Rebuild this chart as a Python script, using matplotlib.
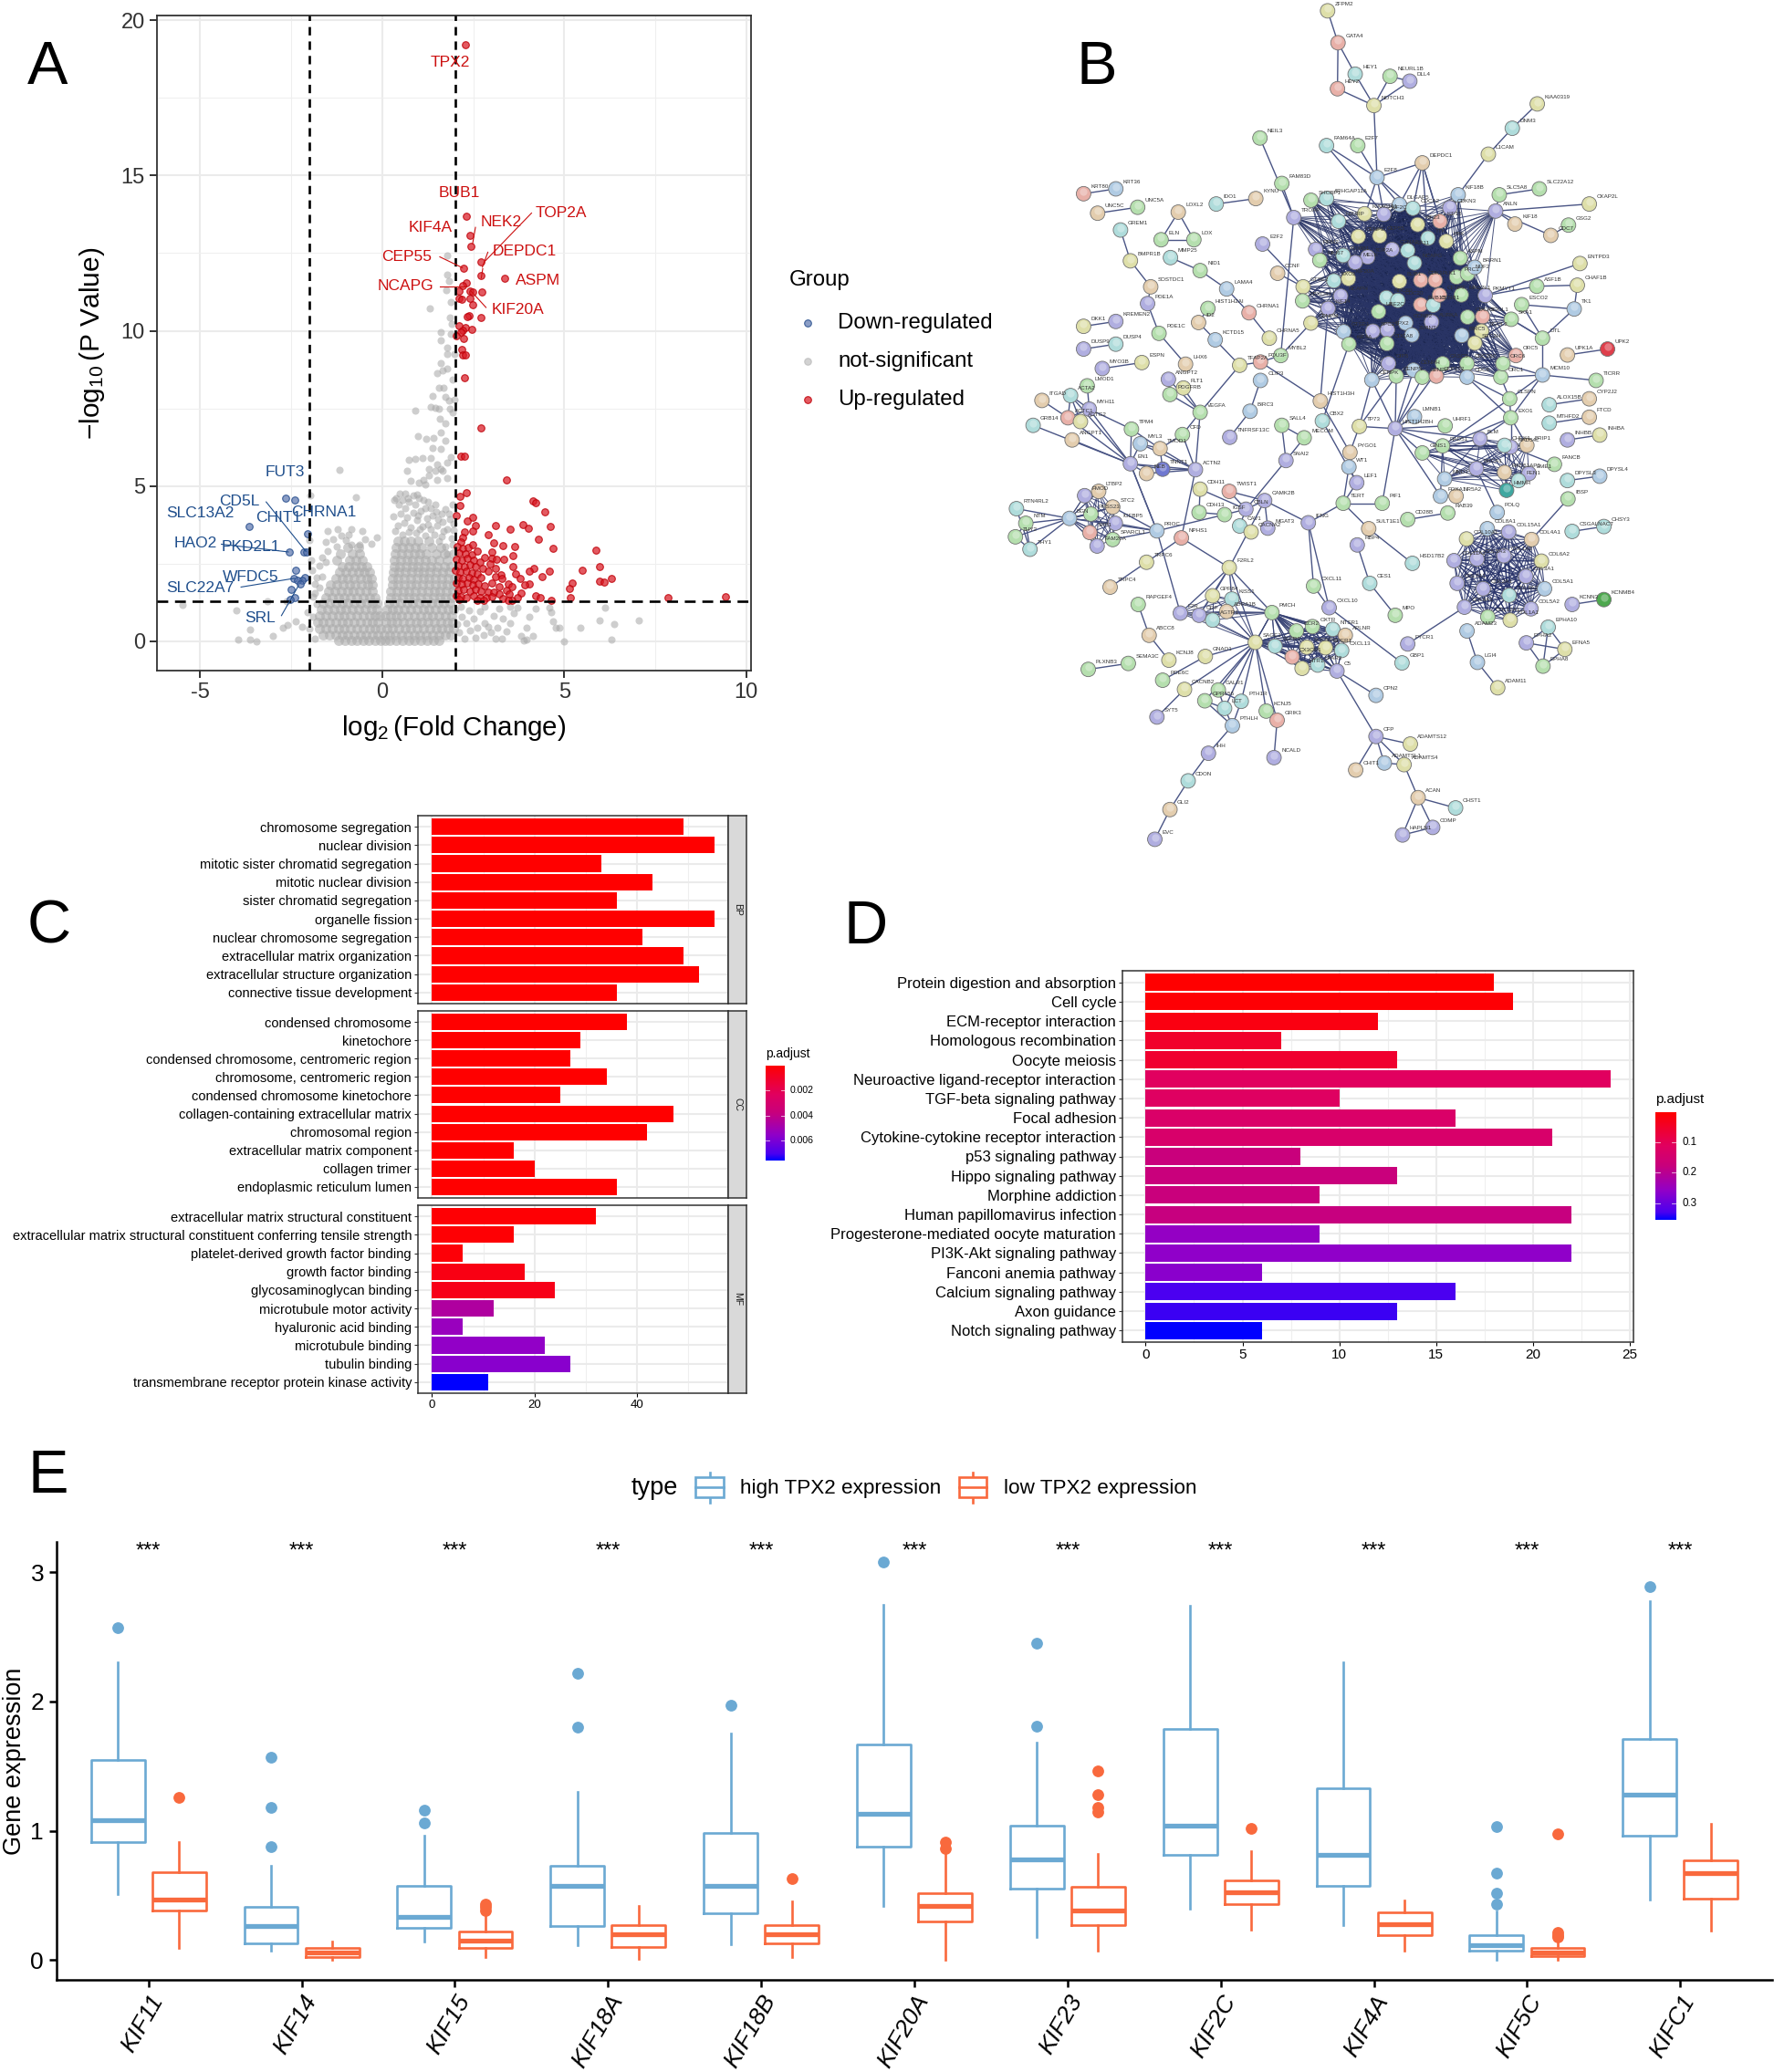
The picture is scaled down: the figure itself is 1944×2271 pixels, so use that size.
import itertools
import numpy as np
import matplotlib
matplotlib.use("Agg")
import matplotlib.pyplot as plt
from matplotlib.collections import LineCollection
from matplotlib.colors import LinearSegmentedColormap
from matplotlib.patches import Rectangle

plt.rcParams['font.family'] = ['Liberation Sans', 'DejaVu Sans']
plt.rcParams['mathtext.fontset'] = 'custom'
plt.rcParams['mathtext.rm'] = 'Liberation Sans'
plt.rcParams['mathtext.default'] = 'regular'

W, H = 1944, 2271

# ---------- A: volcano
red_pts = [(2.29,19.2),(2.30,13.69),(2.40,13.06),(2.43,12.72),(2.72,12.21),(2.23,12.02),(2.72,11.78),(3.35,11.69),
           (2.32,11.54),(2.21,11.47),(2.74,11.25),(2.12,11.28),(2.42,11.28),(2.49,11.25),(2.42,11.04),(2.12,11.03),
           (2.18,11.01),(2.49,10.85),(2.70,10.44),(2.39,10.5),(2.34,10.46),(2.12,10.16),(2.28,10.11),(2.47,10.04),
           (2.21,10.01),(2.15,9.97),(2.04,9.83),(2.24,9.74),(2.18,9.4),(2.21,9.23),(2.28,9.22),(2.27,8.49),(2.70,6.87),
           (2.16,5.95),(2.27,5.97),(3.42,5.2),(2.32,4.79),(2.14,4.67),(2.14,4.39),(4.14,4.52),(4.22,4.47),(4.47,4.16),
           (2.04,4.06),(2.48,3.99),(2.34,3.87),(3.12,3.73),(2.55,3.73),(3.51,3.6),(3.86,3.75),(4.01,3.63),(4.62,3.69),
           (2.48,3.55),(2.26,3.52),(2.91,3.43),(4.3,3.3),(2.21,3.35),(2.15,3.2),(3.05,3.16),(3.32,3.09),(3.63,3.06),
           (4.68,2.99),(5.87,2.93),(5.97,2.42),(5.49,2.29),(6.29,2.02),(5.97,1.94),(6.1,1.92),(5.21,1.88),(5.15,1.71),
           (5.16,1.42),(7.86,1.41),(9.42,1.44),(4.58,2.25),(4.38,2.08),(4.16,2.34),(4.05,2.25),(3.58,2.42),(3.65,2.18),
           (3.78,2.02),(4.03,1.85),(3.92,1.82),(4.21,1.48),(4.35,1.4),(4.64,1.32),(3.82,1.57),(3.71,1.4),(3.57,1.31),
           (3.4,1.64),(3.26,2.14),(3.33,2.64),(3.59,2.76),(2.8,2.71),(3.02,2.88),(3.0,2.68),(3.13,2.64),(2.97,2.49),
           (3.1,2.35),(2.05,3.05),(2.2,3.0),(2.35,3.02),(2.48,3.1),(2.1,2.85),(2.28,2.82),(2.45,2.8),(2.62,2.9),
           (2.03,2.65),(2.18,2.62),(2.33,2.66),(2.5,2.6),(2.68,2.55),(2.08,2.45),(2.25,2.42),(2.4,2.48),(2.56,2.4),
           (2.75,2.35),(2.9,2.25),(2.02,2.28),(2.14,2.22),(2.3,2.25),(2.46,2.2),(2.62,2.18),(2.08,2.05),(2.22,2.02),
           (2.38,2.05),(2.52,2.0),(2.7,2.05),(3.1,2.1),(3.28,2.02),(2.03,1.88),(2.18,1.85),(2.33,1.88),(2.48,1.82),
           (2.64,1.85),(2.82,1.8),(3.0,1.88),(3.2,1.75),(3.45,1.85),(3.55,1.75),(2.08,1.65),(2.24,1.68),(2.4,1.62),
           (2.56,1.66),(2.72,1.62),(2.9,1.58),(3.06,1.6),(3.22,1.52),(3.48,1.52),(2.03,1.48),(2.16,1.45),(2.32,1.42),
           (2.5,1.46),(2.68,1.42),(2.85,1.4),(3.02,1.45),(3.3,1.38),(3.45,1.33),(2.1,1.34),(2.62,1.33),(2.78,1.32)]

blue_pts = [(-2.65,4.62),(-2.41,4.54),(-3.67,3.7),(-2.05,3.48),(-2.55,2.89),(-2.16,2.88),(-2.09,2.88),(-2.37,2.28),
            (-2.14,2.05),(-2.2,1.97),(-2.43,2.04),(-2.33,1.97),(-2.25,1.85),(-2.5,1.67),(-2.41,1.42),(-2.52,1.35)]

grey_sparse = [(1.77,12.42),(1.77,11.82),(1.83,11.61),(1.75,11.32),(1.30,10.73),(1.88,10.94),(1.85,10.44),(1.9,10.21),
               (1.61,9.97),(1.61,9.69),(1.88,9.9),(1.77,9.47),(1.79,9.26),(1.99,9.26),(1.61,8.97),(1.77,8.79),(1.5,8.65),
               (1.66,8.72),(1.93,8.43),(1.55,8.18),(1.68,8.18),(1.39,7.9),(1.72,7.88),(1.83,7.76),(1.99,7.79),(1.34,7.55),
               (1.45,7.51),(1.55,7.48),(1.86,7.48),(0.9,7.44),(1.93,7.38),(1.58,7.17),(1.72,7.02),(1.61,6.74),(0.97,6.62),
               (1.21,6.51),(1.41,6.55),(1.74,6.47),(1.39,6.22),(1.61,6.2),(1.88,5.94),(0.72,5.84),(0.9,5.87),(1.1,5.91),
               (1.34,5.91),(1.77,5.77),(-1.18,5.53),(0.68,5.48),(1.28,5.56),(1.5,5.7),(1.61,5.56),(1.45,5.48),(1.66,5.48),
               (1.28,5.34),(1.12,5.2),(0.79,5.16),(1.77,5.27),(1.5,5.2),(1.01,5.1),(1.17,5.06),(-1.98,4.7),(-0.73,4.63),
               (0.47,4.77),(0.63,4.77),(0.85,4.7),(1.0,4.62),(0.38,4.6),(0.56,4.55),(0.72,4.5),(0.9,4.42),(1.25,4.5),
               (1.45,4.4),(1.92,4.42),(1.62,4.1),(0.5,4.12),(0.85,4.15),(1.05,4.2),(1.22,3.98),(0.95,3.9),(1.65,3.85),
               (1.85,3.95),(0.42,3.72),(0.6,3.82),(0.78,3.68),(1.1,3.7),(1.32,3.62),(1.5,3.72),(1.78,3.6),(-0.85,3.6),
               (-1.22,3.62),(-1.5,3.55),(0.55,3.45),(0.92,3.5),(1.18,3.42),(1.42,3.45),(1.62,3.38),(1.9,3.32),(-0.15,3.35),
               (-0.48,3.3),(-1.0,3.25),(-1.35,3.3),(-2.0,3.25),(-1.95,2.6),(-1.92,2.28),(-1.85,1.85),(-1.9,1.45),
               (-5.48,1.18),(-4.01,1.0),(-3.96,0.07),(-3.63,0.07),(-3.45,0.0),(-3.63,0.38),(-3.01,0.17),(-2.6,0.54),
               (-2.74,0.43),(-2.38,0.64),(-2.2,0.46),(-3.15,1.28),(-2.62,1.28),(-2.0,0.4),(-1.85,0.1),(-1.9,0.8),
               (-2.05,0.95),(-1.8,1.2),(7.04,0.68),(6.37,0.57),(5.96,0.67),(6.12,1.1),(6.29,0.07),(5.43,0.43),(4.98,0.0),
               (4.87,0.43),(4.76,0.43),(4.68,0.64),(4.65,0.93),(4.58,1.1),(4.22,1.07),(4.05,0.78),(3.97,0.43),(4.14,0.17),
               (3.97,0.07),(3.82,0.17),(3.89,0.03),(3.6,0.9),(3.5,0.6),(3.42,0.32),(3.28,0.08),(3.12,0.1),(3.15,0.45),
               (3.3,0.72),(3.05,0.82),(3.2,1.05),(2.98,0.3),(3.52,1.12),(3.72,1.08),(2.82,1.12),(2.68,0.98),(2.8,0.6),
               (2.62,0.45),(2.78,0.2),(2.55,0.12),(2.42,0.35),(2.25,0.1),(2.12,0.3),(2.5,0.72),(2.3,0.58),(2.18,0.78),
               (2.38,1.0),(2.15,1.12),(2.92,0.48),(2.05,0.55),
               (0.32,4.55),(0.45,4.4),(0.62,4.3),(0.7,4.62),(0.95,4.72),(1.12,4.55),(1.32,4.3),(1.48,4.18),(1.38,4.05),
               (1.72,4.25),(1.82,4.12),(0.3,4.02),(0.68,4.0),(0.98,4.05),(1.18,4.28),(1.52,3.95),(1.95,3.8),(0.35,3.55),
               (0.72,3.52),(1.02,3.62),(1.25,3.75),(1.68,3.55),(1.95,3.58),(-0.55,3.55),(-0.92,3.45),(-1.12,3.4),
               (-1.55,3.2),(-0.3,3.15),(-0.62,3.12),(-0.85,3.1),(-1.25,3.05),(-1.5,2.9),(-1.65,2.7),(-1.72,2.45),
               (-1.55,2.55),(-1.65,2.1),(-1.8,2.05),(-1.72,1.72),(-1.85,1.55),(1.92,3.1),(1.72,3.05),(1.55,3.22),(1.78,2.82)]

# the dense grey mass read row by row: one x list for each -log10(p) level
grey_levels = [0.03, 0.22, 0.42, 0.62, 0.82, 1.02, 1.22, 1.42, 1.62, 1.82, 2.02, 2.22, 2.42, 2.62, 2.82, 3.02, 3.22]
grey_rows = [
    [-1.2,-1.03,-0.86,-0.7,-0.53,-0.37,-0.2,-0.06,0.07,0.21,0.38,0.55,0.72,0.89,1.06,1.23,1.4,1.55],
    [-1.62,-1.45,-1.28,-1.11,-0.94,-0.77,-0.6,-0.44,-0.28,-0.12,0.04,0.2,0.36,0.53,0.7,0.87,1.04,1.21,1.38,1.55,1.72,1.88],
    [-1.72,-1.55,-1.38,-1.21,-1.04,-0.87,-0.7,-0.53,-0.36,-0.2,-0.04,0.12,0.28,0.45,0.62,0.79,0.96,1.13,1.3,1.47,1.64,1.81,1.96],
    [-1.78,-1.62,-1.45,-1.28,-1.11,-0.94,-0.77,-0.6,-0.43,-0.27,-0.12,0.1,0.25,0.41,0.58,0.75,0.92,1.09,1.26,1.43,1.6,1.77,1.94],
    [-1.72,-1.55,-1.38,-1.21,-1.04,-0.87,-0.7,-0.53,-0.36,-0.2,-0.08,0.08,0.22,0.37,0.54,0.71,0.88,1.05,1.22,1.39,1.56,1.73,1.9],
    [-1.68,-1.5,-1.33,-1.16,-0.99,-0.82,-0.65,-0.48,-0.31,-0.15,0.13,0.28,0.44,0.61,0.78,0.95,1.12,1.29,1.46,1.63,1.8,1.96],
    [-1.62,-1.45,-1.28,-1.11,-0.94,-0.77,-0.6,-0.43,-0.27,-0.16,0.18,0.33,0.5,0.67,0.84,1.01,1.18,1.35,1.52,1.69,1.86],
    [-1.55,-1.38,-1.21,-1.04,-0.87,-0.7,-0.53,-0.36,-0.2,0.22,0.38,0.55,0.72,0.89,1.06,1.23,1.4,1.57,1.74,1.91],
    [-1.48,-1.3,-1.13,-0.96,-0.79,-0.62,-0.45,-0.28,0.24,0.4,0.57,0.74,0.91,1.08,1.25,1.42,1.59,1.76,1.93],
    [-1.42,-1.25,-1.08,-0.91,-0.74,-0.57,-0.4,-0.27,0.27,0.43,0.6,0.77,0.94,1.11,1.28,1.45,1.62,1.79,1.95],
    [-1.28,-1.11,-0.94,-0.77,-0.6,-0.43,-0.3,0.28,0.44,0.61,0.78,0.95,1.12,1.29,1.46,1.63,1.8,1.97],
    [-1.18,-1.0,-0.83,-0.66,-0.49,-0.34,0.3,0.46,0.63,0.8,0.97,1.14,1.31,1.48,1.65,1.82],
    [-1.1,-0.92,-0.75,-0.58,-0.42,0.32,0.48,0.65,0.82,0.99,1.16,1.33,1.5,1.7,1.88],
    [-1.25,-0.9,-0.72,-0.55,0.33,0.5,0.67,0.84,1.01,1.18,1.35,1.55,1.78],
    [-1.15,-0.82,-0.62,0.36,0.53,0.7,0.87,1.04,1.21,1.48,1.7,1.95],
    [-0.95,-0.66,0.38,0.56,0.73,0.9,1.08,1.35,1.6],
    [0.42,0.6,0.78,0.98,1.28],
]

red_labels = ["TPX2", "BUB1", "TOP2A", "NEK2", "KIF4A", "DEPDC1", "CEP55", "ASPM", "NCAPG", "KIF20A"]
red_label_x = [1.86, 2.12, 4.92, 3.26, 1.32, 3.91, 0.68, 4.28, 0.65, 3.73]
red_label_y = [18.63, 14.44, 13.79, 13.5, 13.33, 12.56, 12.38, 11.61, 11.44, 10.67]
blue_labels = ["FUT3", "CD5L", "SLC13A2", "CHIT1", "CHRNA1", "HAO2", "PKD2L1", "WFDC5", "SLC22A7", "SRL"]
blue_label_x = [-2.66, -3.93, -5.0, -2.85, -1.6, -5.13, -3.61, -3.61, -5.0, -3.35]
blue_label_y = [5.46, 4.5, 4.12, 3.99, 4.16, 3.16, 3.03, 2.08, 1.72, 0.75]
# label connector segments (x0, y0, x1, y1)
red_links = [(4.1,13.79,2.83,12.25),(2.56,13.33,2.48,12.8),(2.9,12.53,2.75,12.05),(1.58,12.38,2.2,12.03),
             (1.58,11.44,2.3,11.44),(2.85,10.75,2.42,11.3),(2.72,11.7,2.76,12.0)]
blue_links = [(-3.19,4.49,-2.1,2.9),(-4.42,3.13,-2.58,2.88),(-3.88,1.75,-2.42,2.03),(-2.77,0.83,-2.3,1.8)]

# ---------- B: string network, positions in layout units
top_nodes = [("ZFPM2",710,20,"y"),("GATA4",730,79,"r"),("HEY1",763,137,"c"),("HEY2",729,164,"r"),("NEURL1B",830,141,"g"),
    ("DLL4",868,150,"b"),("NOTCH3",799,195,"y"),("KIAA0319",1113,192,"y"),("DNM3",1065,237,"c"),("L1CAM",1019,285,"y"),
    ("NEIL3",580,255,"g"),("FAM64A",708,269,"c"),("E2F7",768,269,"g"),("DEPDC1",892,301,"t"),("E2F8",805,328,"s"),
    ("FAM83D",622,339,"g"),("SLC5A8",1040,360,"g"),("SLC22A12",1117,349,"g"),("CKAP2L",1213,377,"y"),("GSG2",1173,416,"g"),
    ("CDC7",1139,435,"t"),("KIF18",1070,414,"t"),("IDO1",496,377,"c"),("KYNU",572,367,"t"),("KRT80",241,358,"r"),
    ("KRT36",303,349,"s"),("UNC5C",268,394,"t"),("UNC5A",345,383,"g"),("LOXL2",423,392,"t"),("ELN",390,443,"g"),
    ("LOX",453,443,"g"),("GREM1",312,425,"c"),("BMPR1B",331,482,"y"),("SOSTDC1",370,530,"t"),("PDE1A",364,561,"b"),
    ("PDE1C",386,616,"g"),("LHX6",437,673,"t"),("MMP25",408,476,"c"),("NID1",465,500,"g"),("LAMA4",516,534,"s"),
    ("CHRNA1",559,578,"r"),("CHRNA5",598,625,"y"),("E2F2",585,451,"b"),("CCNF",614,505,"t"),("HIST1H2AI",480,570,"g"),
    ("ID2",462,596,"t"),("KCTD15",494,628,"s"),("TFAP2A",541,675,"y"),("POU3F",581,669,"r"),("MYBL2",620,657,"g"),
    ("DKK1",241,603,"y"),("KREMEN2",303,594,"b"),("DUSP9",241,645,"b"),("DUSP4",303,636,"c"),("ESPN",353,670,"y"),
    ("MYO3B",277,681,"b"),("LMOD1",248,713,"g"),("ANGPT2",404,701,"b"),("FLT1",433,717,"y"),("PDGFRB",407,729,"g"),
    ("CLIP3",581,703,"s"),("BIRC3",561,760,"s"),("TNFRSF13C",522,808,"b"),("VEGFA",465,762,"g"),("HIST1H3H",696,741,"t"),
    ("CBX2",700,778,"c"),("SALL4",622,786,"g"),("MECOM",665,809,"g"),("SNAI2",630,851,"b"),("PYGO1",753,836,"t"),
    ("WT1",751,863,"s"),("LEF1",766,892,"b"),("TP73",771,788,"y"),("HIST1H2BH",840,792,"b"),("LMNB1",877,770,"s"),
    ("UHRF1",936,787,"g")]
left_nodes = [("ITGAD",161,740,"t"),("ACTA2",216,731,"c"),("ACTC1",211,772,"r"),("ACTG2",235,779,"y"),("MYH11",252,756,"b"),
    ("GRB14",144,786,"c"),("ANGPT1",219,813,"t"),("TPM4",333,793,"g"),("CFD",431,803,"g"),("MYL3",350,820,"s"),
    ("TMOD1",388,829,"t"),("EN1",331,857,"b"),("NEB",362,875,"t"),("TNNT1",393,867,"D"),("ACTN2",456,868,"b"),
    ("CDH11",465,904,"y"),("CDH13",463,947,"g"),("TWIST1",521,908,"r"),("CAMK2B",589,925,"b"),("CBLN",553,941,"b"),
    ("IGSF",512,951,"g"),("CAV1",541,972,"c"),("CACNA2",563,983,"y"),("MGAT3",595,976,"b"),("IFNG",673,966,"b"),
    ("TERT",740,930,"g"),("PIF1",815,930,"g"),("SULT1E1",789,977,"t"),("RBP4",767,1007,"b"),("HSD17B2",873,1041,"c"),
    ("CD28B",864,960,"g"),("RAB39",941,948,"g"),("FOXA1",927,917,"s"),("NR5A2",957,917,"t"),("RTN4RL2",112,940,"c"),
    ("NTM",130,967,"g"),("THY2",110,992,"g"),("THY1",138,1015,"c"),("PROC",382,981,"s"),("NPHS1",429,994,"r"),
    ("TRPC6",362,1039,"y"),("TRPC4",292,1085,"t"),("F2RL2",521,1049,"y"),("CXCL11",683,1083,"g"),("CXCL10",713,1123,"b")]
ecm_nodes = [("LTBP2",270,908,"t"),("FMOD",243,916,"b"),("STC2",297,937,"t"),("PRSS23",255,950,"g"),("IGFBP5",302,967,"b"),
    ("BGN",214,958,"s"),("SPP1",253,984,"r"),("SPARCL1",297,997,"g"),("FAM20A",267,1009,"b")]
gpcr_nodes = [("F2R",427,1133,"b"),("GPR84",489,1101,"y"),("KISS1",526,1107,"c"),("GRP",463,1137,"b"),("ADRA1B",516,1130,"t"),
    ("AGTR1",489,1146,"c"),("PMCH",603,1132,"g"),("SAGE1",571,1187,"y"),("S1PR1",609,1194,"c"),("CCR2",650,1166,"g"),
    ("OXTR",681,1158,"g"),("NTSR1",720,1163,"c"),("APLNR",744,1174,"t"),("SUCNR1",670,1196,"y"),("GPER1",706,1197,"y"),
    ("CX3CR1",642,1214,"r"),("LPAR3",691,1229,"c"),("HTR1",661,1235,"y"),("CXCL13",737,1202,"c"),("C5",728,1240,"b")]
bottom_nodes = [("RAPGEF4",346,1117,"g"),("ABCC8",367,1174,"t"),("KCNJ8",405,1220,"y"),("GNAO1",475,1213,"y"),
    ("PDE6C",393,1257,"g"),("GBP1",853,1225,"c"),("PYCR1",864,1190,"b"),("CACNB2",435,1274,"y"),("GALR1",500,1275,"g"),
    ("GPR156",474,1295,"g"),("LCT",512,1309,"c"),("PTH1R",544,1296,"c"),("KCNJ5",592,1314,"g"),("GRIK3",613,1331,"r"),
    ("PTHLH",527,1341,"s"),("NCALD",607,1400,"b"),("SYT5",382,1325,"b"),("IHH",481,1392,"b"),("CDON",442,1443,"c"),
    ("GLI2",407,1496,"t"),("EVC",378,1551,"b"),("PLXNB3",250,1237,"g"),("SEMA3C",327,1226,"g"),("CFP",803,1361,"b"),
    ("CPN2",803,1285,"s"),("ADAMTS12",869,1375,"y"),("CHIT1",764,1423,"t"),("ADAMTSL1",819,1410,"s"),("ADAMTS4",857,1413,"y"),
    ("ACAN",884,1474,"t"),("CHST1",956,1493,"c"),("COMP",912,1529,"b"),("HAPLN1",854,1543,"b"),("CES1",791,1078,"c"),
    ("MPO",840,1137,"g")]
right_nodes = [("DTL",1123,625,"g"),("MCM10",1123,693,"s"),("CLSPN",1060,737,"g"),("EXO1",1062,772,"g"),("ENTPD3",1195,487,"y"),
    ("CHAF1B",1190,527,"y"),("ASF1B",1112,529,"g"),("TK1",1184,571,"s"),("ESCO2",1083,563,"g"),("UPK2",1248,645,"R"),
    ("UPK1A",1171,656,"t"),("TICRR",1226,703,"g"),("CYP2J2",1213,737,"t"),("ALOX15B",1136,748,"c"),("FTCD",1213,771,"t"),
    ("MTHFD2",1136,782,"c"),("INHBB",1171,813,"b"),("INHBA",1233,804,"y"),("FANCB",1146,858,"g"),("DPYSL3",1171,888,"c"),
    ("DPYSL4",1233,880,"s"),("IBSP",1172,922,"g"),("CSGALNACT",1180,982,"c"),("CHSY3",1241,973,"c"),("KCNN3",1180,1117,"b"),
    ("KCNMB4",1241,1108,"G"),("EPHA10",1134,1159,"c"),("EPHA2",1092,1188,"b"),("EFNA5",1166,1200,"y"),("EPHA8",1124,1231,"g"),
    ("ADAM23",978,1166,"s"),("LGI4",998,1224,"s"),("ADAM11",1037,1271,"y"),("POLQ",1036,947,"s")]
repair_nodes = [("RAD51",931,824,"g"),("GINS1",892,837,"g"),("BLM",1003,811,"b"),("RAD54L",1062,826,"b"),("CHEK1",1050,823,"c"),
    ("BRCA1",996,866,"b"),("MND1",935,885,"s"),("RAD51AP1",1050,873,"t"),("EME1",1097,875,"b"),("FEN1",1077,888,"c"),
    ("HMMR",1054,906,"T"),("BRIP1",1093,823,"t")]
collagen_nodes = [("COL8A1",1017,977,"s"),("COL15A1",1058,983,"b"),("COL4A1",1102,997,"t"),("COL10A1",977,996,"y"),
    ("COL6A2",1121,1037,"y"),("COL11A1",953,1036,"b"),("COL5A3",997,1033,"b"),("COL1A2",1049,1027,"b"),("COL3A1",1091,1065,"b"),
    ("COL5A1",1127,1088,"s"),("COL7A1",959,1078,"b"),("COL2A1",1009,1088,"b"),("COL4A2",1059,1100,"c"),("COL5A2",1101,1125,"b"),
    ("COL9A1",973,1122,"b"),("COL12A1",1018,1140,"g"),("COL1A1",1061,1146,"y")]
hub_core = [("KIF2C",818,396,"b"),("DLGAP5",848,378,"s"),("CDCA2",874,385,"c"),("KIF23",883,415,"y"),("KIF15",926,409,"r"),
    ("CEP55",810,436,"y"),("CENPE",769,437,"y"),("CCNA2",834,461,"b"),("KIF11",864,463,"c"),("TTK",903,440,"c"),
    ("PBK",938,446,"y"),("ASPM",965,477,"g"),("NCAPG",877,486,"c"),("TOP2A",787,475,"b"),("MELK",763,485,"b"),
    ("KIF20A",750,515,"y"),("NCAPH",735,547,"b"),("NDC80",823,550,"c"),("CDC20",845,555,"c"),("BUB1",848,520,"y"),
    ("BUB1B",889,563,"r"),("CCNB1",913,564,"c"),("AURKA",910,595,"b"),("CDK1",889,518,"r"),("PLK1",917,518,"r"),
    ("CENPF",925,545,"r"),("PRC1",958,512,"g"),("NUF2",979,506,"g"),("MAD2L1",967,545,"g"),("UBE2C",808,576,"g"),
    ("CCNB2",860,597,"s"),("SPC25",797,612,"b"),("TPX2",825,610,"b"),("ZWINT",872,619,"s"),("CDCA8",824,635,"g"),
    ("CDCA5",979,586,"g"),("BIRC5",968,620,"s"),("GTSE1",741,613,"s"),("KIF4A",751,636,"g"),("OIP5",827,672,"b")]
hub_outer = [("TROAP",645,402,"b"),("SHCBP1",678,370,"g"),("ARHGAP11A",708,367,"c"),("HJURP",731,409,"c"),("KIAA0101",781,395,"y"),
    ("KIF18B",961,360,"s"),("CDKN3",945,384,"b"),("ANLN",1033,390,"b"),("BRRN1",993,494,"s"),("RRM2",687,461,"b"),
    ("MKI67",695,481,"g"),("FOXM1",740,472,"c"),("EXO2",722,519,"c"),("GTSE2",663,530,"y"),("FBXO43",662,556,"g"),
    ("KIF14",711,570,"b"),("CENPM",678,597,"y"),("PKMYT1",1013,546,"b"),("SGOL1",1008,585,"r"),("SGOL2",1006,612,"y"),
    ("SRC2H",993,634,"y"),("SKA1",1063,590,"g"),("CENPK",795,702,"s"),("CENPN",842,695,"g"),("CENPH",875,684,"s"),
    ("CENPI",892,697,"g"),("CEP152",919,695,"r"),("CASC5",931,672,"g"),("CDC25C",978,672,"g"),("CDC6",978,697,"s"),
    ("ORC1",1043,697,"g"),("ORC6",1047,672,"g"),("ORC5",1072,657,"r")]
# outer nodes that sit inside the dark core of the picture
core_extra = ["CENPH", "CENPN", "CASC5", "CEP152", "CDC25C", "SRC2H", "SGOL2", "SGOL1", "PKMYT1"]

net_edges = [("ZFPM2","GATA4"),("GATA4","HEY1"),("GATA4","HEY2"),("HEY1","NOTCH3"),("HEY2","NOTCH3"),("NEURL1B","NOTCH3"),
    ("DLL4","NOTCH3"),("NEURL1B","DLL4"),("NOTCH3","E2F8"),("KIAA0319","DNM3"),("DNM3","L1CAM"),("L1CAM","KIF18B"),
    ("E2F8","E2F7"),("E2F8","FAM64A"),("NEIL3","TROAP"),("FAM83D","TROAP"),("SLC5A8","SLC22A12"),("CKAP2L","ANLN"),
    ("GSG2","CDC7"),("CDC7","ANLN"),("KIF18","ANLN"),("IDO1","KYNU"),("KRT80","KRT36"),("UNC5C","UNC5A"),("LOXL2","ELN"),
    ("LOXL2","LOX"),("ELN","LOX"),("GREM1","BMPR1B"),("BMPR1B","SOSTDC1"),("SOSTDC1","PDE1A"),("PDE1A","PDE1C"),
    ("PDE1C","LHX6"),("MMP25","NID1"),("NID1","LAMA4"),("LAMA4","CHRNA1"),("CHRNA1","CHRNA5"),("E2F2","GTSE2"),
    ("CCNF","GTSE2"),("HIST1H2AI","ID2"),("ID2","KCTD15"),("KCTD15","TFAP2A"),("TFAP2A","VEGFA"),("TFAP2A","POU3F"),
    ("POU3F","MYBL2"),("POU3F","HIST1H3H"),("MYBL2","CENPM"),("MYBL2","TROAP"),("DKK1","KREMEN2"),("DUSP9","DUSP4"),
    ("ESPN","MYO3B"),("LMOD1","MYH11"),("ANGPT2","VEGFA"),("FLT1","VEGFA"),("PDGFRB","VEGFA"),("ANGPT2","PDGFRB"),
    ("CLIP3","BIRC3"),("BIRC3","TNFRSF13C"),("VEGFA","CFD"),("VEGFA","ACTN2"),("HIST1H3H","KIF14"),("HIST1H3H","PYGO1"),
    ("CBX2","KIF4A"),("CBX2","LEF1"),("SALL4","MECOM"),("SALL4","SNAI2"),("MECOM","SNAI2"),("SNAI2","CBLN"),("PYGO1","TP73"),
    ("WT1","PYGO1"),("WT1","LEF1"),("LEF1","TERT"),("WT1","TERT"),("TP73","CENPK"),("TP73","CENPN"),("HIST1H2BH","LMNB1"),
    ("HIST1H2BH","UHRF1"),("HIST1H2BH","CENPK"),("HIST1H2BH","CENPN"),("HIST1H2BH","CENPH"),("HIST1H2BH","CENPI"),
    ("HIST1H2BH","RAD51"),("HIST1H2BH","GINS1"),("HIST1H2BH","FOXA1"),("HIST1H2BH","TP73"),("HIST1H2BH","PIF1"),
    ("HIST1H2BH","BLM"),("HIST1H2BH","CASC5"),("ITGAD","ACTC1"),("ACTA2","ACTC1"),("ACTA2","MYH11"),("ACTA2","ACTG2"),
    ("ACTC1","ACTG2"),("ACTC1","MYH11"),("MYH11","TPM4"),("ACTA2","EN1"),("ACTC1","EN1"),("GRB14","EN1"),("ANGPT1","EN1"),
    ("MYH11","EN1"),("TPM4","EN1"),("TPM4","TMOD1"),("MYL3","EN1"),("MYL3","TMOD1"),("EN1","NEB"),("EN1","TNNT1"),
    ("EN1","ACTN2"),("NEB","ACTN2"),("TNNT1","ACTN2"),("TMOD1","ACTN2"),("TMOD1","TNNT1"),("MYL3","ACTN2"),("EN1","PROC"),
    ("ACTN2","NPHS1"),("CFD","ACTN2"),("CDH11","CDH13"),("CDH11","CBLN"),("TWIST1","CBLN"),("TWIST1","CAMK2B"),
    ("CBLN","CAMK2B"),("CBLN","IGSF"),("CBLN","CAV1"),("CAMK2B","MGAT3"),("CDH13","IGSF"),("IGSF","PROC"),("CAV1","CACNA2"),
    ("CAMK2B","IFNG"),("IFNG","TERT"),("TERT","PIF1"),("TERT","SULT1E1"),("SULT1E1","HSD17B2"),("RBP4","CES1"),("CES1","MPO"),
    ("CD28B","RAB39"),("IFNG","CXCL11"),("IFNG","CXCL10"),("CXCL11","CXCL10"),("RTN4RL2","BGN"),("NTM","BGN"),("THY2","BGN"),
    ("THY1","BGN"),("RTN4RL2","THY1"),("NTM","THY2"),("NTM","THY1"),("THY2","THY1"),("PROC","BGN"),("PROC","EN1"),
    ("PROC","SPARCL1"),("PROC","IGFBP5"),("PROC","STC2"),("PROC","F2R"),("NPHS1","F2RL2"),("TRPC6","TRPC4"),("TRPC6","NPHS1"),
    ("F2RL2","GPR84"),("F2RL2","KISS1"),("F2RL2","GRP"),("F2RL2","PMCH"),("F2RL2","SAGE1"),("F2RL2","F2R"),("CAMK2B","F2RL2"),
    ("RAPGEF4","ABCC8"),("ABCC8","KCNJ8"),("GNAO1","SAGE1"),("GNAO1","PDE6C"),("GBP1","CXCL10"),("PYCR1","COL9A1"),
    ("CACNB2","SAGE1"),("GALR1","SAGE1"),("GPR156","SAGE1"),("LCT","SAGE1"),("PTH1R","SAGE1"),("KCNJ5","SAGE1"),("GRIK3","SAGE1"),
    ("GRIK3","NCALD"),("GPR156","LCT"),("GPR156","PTHLH"),("LCT","PTHLH"),("PTH1R","PTHLH"),("GALR1","LCT"),("GALR1","PTH1R"),
    ("SYT5","CACNB2"),("PTHLH","IHH"),("IHH","CDON"),("CDON","GLI2"),("GLI2","EVC"),("PLXNB3","SEMA3C"),("C5","CFP"),("C5","CPN2"),
    ("CFP","ADAMTS12"),("CFP","CHIT1"),("CFP","ADAMTSL1"),("CFP","ADAMTS4"),("ADAMTSL1","ADAMTS4"),("ADAMTS4","ACAN"),
    ("ACAN","CHST1"),("ACAN","COMP"),("ACAN","HAPLN1"),("COMP","HAPLN1"),("DTL","MCM10"),("DTL","ESCO2"),("DTL","SKA1"),
    ("MCM10","ORC1"),("MCM10","ORC6"),("MCM10","TICRR"),("MCM10","CLSPN"),("MCM10","EXO1"),("CLSPN","EXO1"),("CLSPN","ORC1"),
    ("CLSPN","CDC6"),("EXO1","CDC6"),("EXO1","BLM"),("EXO1","RAD54L"),("EXO1","BRIP1"),("CLSPN","RAD51"),("EXO1","RAD51"),
    ("ENTPD3","PKMYT1"),("CHAF1B","ASF1B"),("ASF1B","PKMYT1"),("CHAF1B","TK1"),("TK1","ESCO2"),("TK1","DTL"),("UPK2","UPK1A"),
    ("ALOX15B","CYP2J2"),("MTHFD2","FTCD"),("INHBB","INHBA"),("FANCB","RAD54L"),("DPYSL3","DPYSL4"),("IBSP","COL4A1"),
    ("CSGALNACT","CHSY3"),("KCNN3","KCNMB4"),("EPHA10","EPHA2"),("EPHA10","EFNA5"),("EPHA2","EFNA5"),("EPHA2","EPHA8"),
    ("EPHA10","EPHA8"),("EFNA5","EPHA8"),("ADAM23","LGI4"),("LGI4","ADAM11"),("POLQ","BRCA1"),("FOXA1","RAD51"),("E2F8","DEPDC1"),
    ("E2F8","KIF2C"),("E2F8","DLGAP5"),("E2F8","CENPE"),("E2F8","CDCA2"),("DEPDC1","CDCA2"),("DEPDC1","KIF15"),("DEPDC1","DLGAP5"),
    ("DEPDC1","TTK"),("DEPDC1","PBK"),("SKA1","DTL"),("SLC5A8","ANLN"),("FAM64A","KIF2C"),("CFD","TMOD1")]

node_colors = {"g": "#B5DFAE", "b": "#B0AEE0", "c": "#AFDCDB", "t": "#E3CDAE", "y": "#DEDFA9", "r": "#E8B0A8",
               "s": "#B0CBE3", "R": "#DE3F4B", "G": "#4DA84E", "T": "#3FA7A0", "D": "#6F78D0"}

# ---------- C: GO bars
bp_terms = ["chromosome segregation", "nuclear division", "mitotic sister chromatid segregation", "mitotic nuclear division",
            "sister chromatid segregation", "organelle fission", "nuclear chromosome segregation",
            "extracellular matrix organization", "extracellular structure organization", "connective tissue development"]
bp_counts = [49, 55, 33, 43, 36, 55, 41, 49, 52, 36]
bp_p = [0, 0, 0, 0, 0, 0, 0, 0, 0, 0]
cc_terms = ["condensed chromosome", "kinetochore", "condensed chromosome, centromeric region", "chromosome, centromeric region",
            "condensed chromosome kinetochore", "collagen-containing extracellular matrix", "chromosomal region",
            "extracellular matrix component", "collagen trimer", "endoplasmic reticulum lumen"]
cc_counts = [38, 29, 27, 34, 25, 47, 42, 16, 20, 36]
cc_p = [0, 0, 0, 0, 0, 0, 0, 0, 0, 0]
mf_terms = ["extracellular matrix structural constituent", "extracellular matrix structural constituent conferring tensile strength",
            "platelet-derived growth factor binding", "growth factor binding", "glycosaminoglycan binding",
            "microtubule motor activity", "hyaluronic acid binding", "microtubule binding", "tubulin binding",
            "transmembrane receptor protein kinase activity"]
mf_counts = [32, 16, 6, 18, 24, 12, 6, 22, 27, 11]
mf_p = [0.0001, 0.0001, 0.0002, 0.0005, 0.0006, 0.0046, 0.0053, 0.0055, 0.0057, 0.0076]
go_p_max = 0.0076

# ---------- D: KEGG bars
kegg_terms = ["Protein digestion and absorption", "Cell cycle", "ECM-receptor interaction", "Homologous recombination",
              "Oocyte meiosis", "Neuroactive ligand-receptor interaction", "TGF-beta signaling pathway", "Focal adhesion",
              "Cytokine-cytokine receptor interaction", "p53 signaling pathway", "Hippo signaling pathway", "Morphine addiction",
              "Human papillomavirus infection", "Progesterone-mediated oocyte maturation", "PI3K-Akt signaling pathway",
              "Fanconi anemia pathway", "Calcium signaling pathway", "Axon guidance", "Notch signaling pathway"]
kegg_counts = [18, 19, 12, 7, 13, 24, 10, 16, 21, 8, 13, 9, 22, 9, 22, 6, 16, 13, 6]
kegg_p = [0.0, 0.005, 0.02, 0.05, 0.055, 0.11, 0.115, 0.13, 0.135, 0.175, 0.175, 0.175, 0.18, 0.255, 0.26, 0.265, 0.33, 0.335, 0.355]
kegg_p_max = 0.355

# ---------- E: boxplots
kif_genes = ["KIF11", "KIF14", "KIF15", "KIF18A", "KIF18B", "KIF20A", "KIF23", "KIF2C", "KIF4A", "KIF5C", "KIFC1"]
high_lo = [0.51, 0.07, 0.145, 0.115, 0.12, 0.415, 0.175, 0.40, 0.27, 0.0, 0.465]
high_q1 = [0.91, 0.13, 0.25, 0.265, 0.36, 0.875, 0.55, 0.81, 0.57, 0.07, 0.96]
high_med = [1.08, 0.26, 0.335, 0.57, 0.57, 1.13, 0.775, 1.04, 0.81, 0.115, 1.28]
high_q3 = [1.55, 0.41, 0.57, 0.73, 0.98, 1.67, 1.04, 1.79, 1.325, 0.195, 1.71]
high_hi = [2.30, 0.73, 0.96, 1.30, 1.75, 2.75, 1.68, 2.74, 2.30, 0.375, 2.775]
high_out = [[2.57], [1.57, 1.18, 0.875], [1.16, 1.06], [2.22, 1.80], [1.97], [3.08], [2.45, 1.805], [], [],
            [1.035, 0.675, 0.515, 0.43], [2.89]]
low_lo = [0.09, 0.0, 0.025, 0.01, 0.02, 0.0, 0.07, 0.235, 0.075, 0.0, 0.225]
low_q1 = [0.38, 0.02, 0.095, 0.10, 0.125, 0.295, 0.27, 0.43, 0.195, 0.03, 0.475]
low_med = [0.47, 0.06, 0.15, 0.20, 0.20, 0.42, 0.385, 0.525, 0.28, 0.055, 0.67]
low_q3 = [0.68, 0.09, 0.22, 0.27, 0.27, 0.52, 0.565, 0.615, 0.37, 0.09, 0.77]
low_hi = [0.91, 0.14, 0.34, 0.42, 0.45, 0.82, 0.82, 0.84, 0.46, 0.14, 1.055]
low_out = [[1.26], [], [0.43, 0.41, 0.385], [], [0.63], [0.915, 0.86], [1.465, 1.28, 1.18, 1.145], [1.02], [],
           [0.975, 0.21, 0.195, 0.175], []]
BLUE = "#6BA9D3"
ORANGE = "#F9693D"

padj_cmap = LinearSegmentedColormap.from_list("padj", [(0, (1, 0, 0)), (0.31, (225/255, 0, 95/255)), (0.5, (200/255, 0, 125/255)),
                                                       (0.73, (145/255, 0, 200/255)), (0.93, (75/255, 0, 240/255)), (1, (0, 0, 1))])


def ax_px(left, top, right, bottom):
    return fig.add_axes([left / W, 1 - bottom / H, (right - left) / W, (bottom - top) / H])


def bw_frame(ax, width=1.1):
    ax.set_axisbelow(True)
    ax.grid(True, which='major', color='#EBEBEB', lw=1.5)
    ax.grid(True, which='minor', color='#EFEFEF', lw=0.8)
    for s in ax.spines.values():
        s.set_color('#333333')
        s.set_linewidth(width)


def bars(ax, terms, counts, pvals, pmax, fs):
    pos = np.arange(len(terms))[::-1]
    ax.barh(pos, counts, height=0.9, color=padj_cmap(np.array(pvals) / pmax), zorder=2)
    ax.set_yticks(pos)
    ax.set_yticklabels(terms, fontsize=fs, color='black')
    ax.set_ylim(-0.6, len(terms) - 0.4)
    ax.tick_params(axis='y', length=3, width=0.8, color='#333333', pad=2)


def colorbar(left, top, right, bottom, pmax, ticks, labels, title, title_fs, tick_fs):
    cax = ax_px(left, top, right, bottom)
    cax.imshow(np.linspace(0, 1, 256)[:, None], cmap=padj_cmap, aspect='auto', extent=[0, 1, pmax, 0])
    for t, lab in zip(ticks, labels):
        cax.plot([0, 0.2], [t, t], color='white', lw=0.6, alpha=0.8)
        cax.plot([0.8, 1], [t, t], color='white', lw=0.6, alpha=0.8)
        cax.text(1.28, t, lab, transform=cax.get_yaxis_transform(), fontsize=tick_fs, va='center', ha='left', color='black')
    cax.set_xlim(0, 1)
    cax.set_ylim(pmax, 0)
    cax.axis('off')
    cax.text(0, 1.06, title, transform=cax.transAxes, fontsize=title_fs, ha='left', va='bottom', color='black')


fig = plt.figure(figsize=(W / 100, H / 100), dpi=100, facecolor='white')

# ---------- A
ax = ax_px(172, 17, 823, 735)
bw_frame(ax, 1.3)
ax.set_xlim(-6.19, 10.13)
ax.set_ylim(-0.94, 20.15)
ax.set_xticks([-5, 0, 5, 10])
ax.set_xticklabels(['-5', '0', '5', '10'])
ax.set_xticks([-2.5, 2.5, 7.5], minor=True)
ax.set_yticks([0, 5, 10, 15, 20])
ax.set_yticks([2.5, 7.5, 12.5, 17.5], minor=True)
ax.tick_params(axis='both', which='major', labelsize=17, length=6, width=1.4, color='#333333', labelcolor='#333333')
ax.tick_params(axis='both', which='minor', length=0)

dense_x, dense_y = [], []
for lev, row in zip(grey_levels, grey_rows):
    dense_x += row
    dense_y += [lev] * len(row)
ax.scatter(dense_x, dense_y, s=62, color='#ACACAC', alpha=0.6, linewidths=0, zorder=3)
ax.scatter([p[0] for p in grey_sparse], [p[1] for p in grey_sparse], s=34, color='#A7A7A7', alpha=0.55, linewidths=0, zorder=3)
ax.scatter([p[0] for p in red_pts], [p[1] for p in red_pts], s=30, facecolor=(0.85, 0.1, 0.14, 0.72),
           edgecolor=(0.75, 0.0, 0.03, 0.85), linewidths=0.8, zorder=4)
ax.scatter([p[0] for p in blue_pts], [p[1] for p in blue_pts], s=30, facecolor=(0.3, 0.42, 0.66, 0.65),
           edgecolor=(0.15, 0.3, 0.55, 0.85), linewidths=0.8, zorder=4)
ax.axhline(1.3, color='black', lw=1.9, ls=(0, (4.5, 2.8)), zorder=5)
ax.axvline(-2, color='black', lw=1.9, ls=(0, (3.5, 2.5)), zorder=5)
ax.axvline(2, color='black', lw=1.9, ls=(0, (3.5, 2.5)), zorder=5)
for lab, x, y in zip(red_labels, red_label_x, red_label_y):
    ax.text(x, y, lab, color='#CC1010', fontsize=12.5, ha='center', va='center', zorder=6)
for lab, x, y in zip(blue_labels, blue_label_x, blue_label_y):
    ax.text(x, y, lab, color='#1F4E8C', fontsize=12.5, ha='center', va='center', zorder=6)
for x0, y0, x1, y1 in red_links:
    ax.plot([x0, x1], [y0, y1], color='#CC1010', lw=0.8, zorder=6)
for x0, y0, x1, y1 in blue_links:
    ax.plot([x0, x1], [y0, y1], color='#1F4E8C', lw=0.8, zorder=6)

# ---------- B
net = ax_px(1050, 0, 1944, 930)
net.set_xlim(0, 1568)
net.set_ylim(1568, 0)
net.axis('off')
all_groups = [top_nodes, left_nodes, ecm_nodes, gpcr_nodes, bottom_nodes, right_nodes, repair_nodes, collagen_nodes, hub_core, hub_outer]
all_nodes = [n for grp in all_groups for n in grp]
where = {n[0]: (n[1], n[2]) for n in all_nodes}


def xy_pairs(pairs):
    return [(where[a], where[b]) for a, b in pairs]


core_names = [n[0] for n in hub_core] + core_extra
outer_names = [n[0] for n in hub_outer]
net.add_collection(LineCollection(xy_pairs(itertools.combinations(core_names, 2)), colors='#1B2650', linewidths=0.75, alpha=0.85, zorder=1))
outer_links = [(o, c) for i, o in enumerate(outer_names) for c in core_names[i % 3::3]]
net.add_collection(LineCollection(xy_pairs(outer_links), colors='#2A3566', linewidths=0.7, alpha=0.85, zorder=1))
for grp, lw in [(collagen_nodes, 0.8), (gpcr_nodes[6:], 0.8), (gpcr_nodes[:6], 0.7), (ecm_nodes, 0.7), (repair_nodes, 0.7)]:
    names = [n[0] for n in grp]
    net.add_collection(LineCollection(xy_pairs(itertools.combinations(names, 2)), colors='#28336A', linewidths=lw, alpha=0.85, zorder=1))
bgn_links = [("BGN", n[0]) for n in ecm_nodes] + [("PMCH", n[0]) for n in gpcr_nodes] + [("SAGE1", n[0]) for n in gpcr_nodes]
net.add_collection(LineCollection(xy_pairs(bgn_links), colors='#3B4677', linewidths=0.8, alpha=0.85, zorder=1))
net.add_collection(LineCollection(xy_pairs(net_edges), colors='#4A5585', linewidths=1.0, zorder=1))
nx = [n[1] for n in all_nodes]
ny = [n[2] for n in all_nodes]
nc = [node_colors[n[3]] for n in all_nodes]
net.scatter(nx, ny, s=132, c=nc, edgecolors='#707070', linewidths=0.6, zorder=2)
net.scatter(nx, [v - 4 for v in ny], s=36, color='white', alpha=0.3, linewidths=0, zorder=3)
for n in all_nodes:
    net.text(n[1] + 14, n[2] - 13, n[0], fontsize=4.5, color='#333333', ha='left', va='center', zorder=4)

# ---------- C
panels_c = [(bp_terms, bp_counts, bp_p, 894, 1100, "BP"), (cc_terms, cc_counts, cc_p, 1108, 1313, "CC"), (mf_terms, mf_counts, mf_p, 1321, 1527, "MF")]
for terms, counts, pv, top, bottom, strip in panels_c:
    a = ax_px(458, top, 798, bottom)
    bw_frame(a)
    a.set_xlim(-2.75, 57.75)
    a.set_xticks([0, 20, 40])
    a.set_xticks([10, 30, 50], minor=True)
    bars(a, terms, counts, pv, go_p_max, 10.5)
    a.tick_params(axis='x', which='minor', length=0)
    if strip == "MF":
        a.tick_params(axis='x', which='major', labelsize=9.5, length=3, width=0.8, pad=2)
    else:
        a.tick_params(axis='x', which='major', length=0, labelbottom=False)
    sa = ax_px(798, top, 818, bottom)
    sa.set_xticks([])
    sa.set_yticks([])
    sa.set_facecolor('#D9D9D9')
    for s in sa.spines.values():
        s.set_color('#333333')
        s.set_linewidth(1.1)
    sa.text(0.5, 0.5, strip, transform=sa.transAxes, rotation=-90, ha='center', va='center', fontsize=7.5, color='#1A1A1A')
colorbar(839, 1168, 860, 1272, go_p_max, [0.002, 0.004, 0.006], ['0.002', '0.004', '0.006'], 'p.adjust', 10, 7.6)

# ---------- D
a = ax_px(1230, 1064, 1790, 1471)
bw_frame(a)
a.set_xlim(-1.2, 25.2)
a.set_xticks([0, 5, 10, 15, 20, 25])
a.set_xticks([2.5, 7.5, 12.5, 17.5, 22.5], minor=True)
bars(a, kegg_terms, kegg_counts, kegg_p, kegg_p_max, 12)
a.tick_params(axis='x', which='minor', length=0)
a.tick_params(axis='x', which='major', labelsize=11, length=3, width=0.8, pad=2)
colorbar(1814, 1219, 1837, 1337, kegg_p_max, [0.1, 0.2, 0.3], ['0.1', '0.2', '0.3'], 'p.adjust', 11, 8.3)

# ---------- E
e = ax_px(62, 1690, 1942, 2170)
e.set_xlim(-0.6, 10.6)
e.set_ylim(-0.154, 3.234)
for s in ['top', 'right']:
    e.spines[s].set_visible(False)
for s in ['left', 'bottom']:
    e.spines[s].set_linewidth(1.8)
pos = np.arange(len(kif_genes))
for col, off, lo, q1, med, q3, hi, out in [(BLUE, -0.2, high_lo, high_q1, high_med, high_q3, high_hi, high_out),
                                           (ORANGE, 0.2, low_lo, low_q1, low_med, low_q3, low_hi, low_out)]:
    stats = [dict(whislo=lo[i], q1=q1[i], med=med[i], q3=q3[i], whishi=hi[i], fliers=out[i]) for i in range(len(pos))]
    e.bxp(stats, positions=pos + off, widths=0.35, showcaps=False, manage_ticks=False,
          boxprops=dict(color=col, lw=1.9), whiskerprops=dict(color=col, lw=1.9),
          medianprops=dict(color=col, lw=3.8, solid_capstyle='butt'),
          flierprops=dict(marker='o', markerfacecolor=col, markeredgecolor=col, markersize=8.2))
for p in pos:
    e.text(p, 3.16, '***', ha='center', va='center', fontsize=17, color='black')
e.set_xticks(pos)
e.set_xticklabels(kif_genes, rotation=60, rotation_mode='anchor', ha='right', va='top', style='italic', fontsize=19, color='black')
e.set_yticks([0, 1, 2, 3])
e.tick_params(axis='y', labelsize=19, length=6, width=1.8, pad=4)
e.tick_params(axis='x', length=6, width=1.8, pad=3)

# ---------- overlay: panel letters, axis titles, legends (in figure pixels)
ov = fig.add_axes([0, 0, 1, 1], zorder=10)
ov.set_xlim(0, W)
ov.set_ylim(H, 0)
ov.axis('off')
for lab, x, y in [("A", 30, 75), ("B", 1179, 75), ("C", 30, 1016), ("D", 924, 1017), ("E", 30, 1619)]:
    ov.text(x, y, lab, fontsize=48, ha='left', va='center', color='black')
ov.text(101, 376, r'$-\log_{10}$(P Value)', rotation=90, fontsize=21.5, ha='center', va='center', color='black')
ov.text(497, 798, r'$\log_{2}$(Fold Change)', fontsize=21.3, ha='center', va='center', color='black')
ov.text(865, 307, 'Group', fontsize=17.3, ha='left', va='center', color='black')
for y, lab, fc, ec in [(354, 'Down-regulated', (0.3, 0.42, 0.66, 0.65), (0.15, 0.3, 0.55, 0.85)),
                       (396, 'not-significant', (0.65, 0.65, 0.65, 0.5), (0.65, 0.65, 0.65, 0.5)),
                       (438, 'Up-regulated', (0.85, 0.1, 0.14, 0.72), (0.75, 0.0, 0.03, 0.85))]:
    ov.scatter([885], [y], s=30, facecolor=fc, edgecolor=ec, linewidths=0.8)
    ov.text(918, y, lab, fontsize=17.3, ha='left', va='center', color='black')
ov.text(692, 1631, 'type', fontsize=19.5, ha='left', va='center', color='black')
for x0, x1, col, lab, tx in [(762, 793, BLUE, 'high TPX2 expression', 811), (1051, 1081, ORANGE, 'low TPX2 expression', 1100)]:
    xm = (x0 + x1) / 2
    ov.plot([xm, xm], [1614, 1647], color=col, lw=1.9)
    ov.add_patch(Rectangle((x0, 1619), x1 - x0, 22, facecolor='white', edgecolor=col, lw=1.9, zorder=3))
    ov.plot([x0, x1], [1630, 1630], color=col, lw=1.9, zorder=4)
    ov.text(tx, 1631, lab, fontsize=16.2, ha='left', va='center', color='black')
ov.text(16, 1930, 'Gene expression', rotation=90, fontsize=19.5, ha='center', va='center', color='black')

fig.savefig('out.png', dpi=100, facecolor='white')
